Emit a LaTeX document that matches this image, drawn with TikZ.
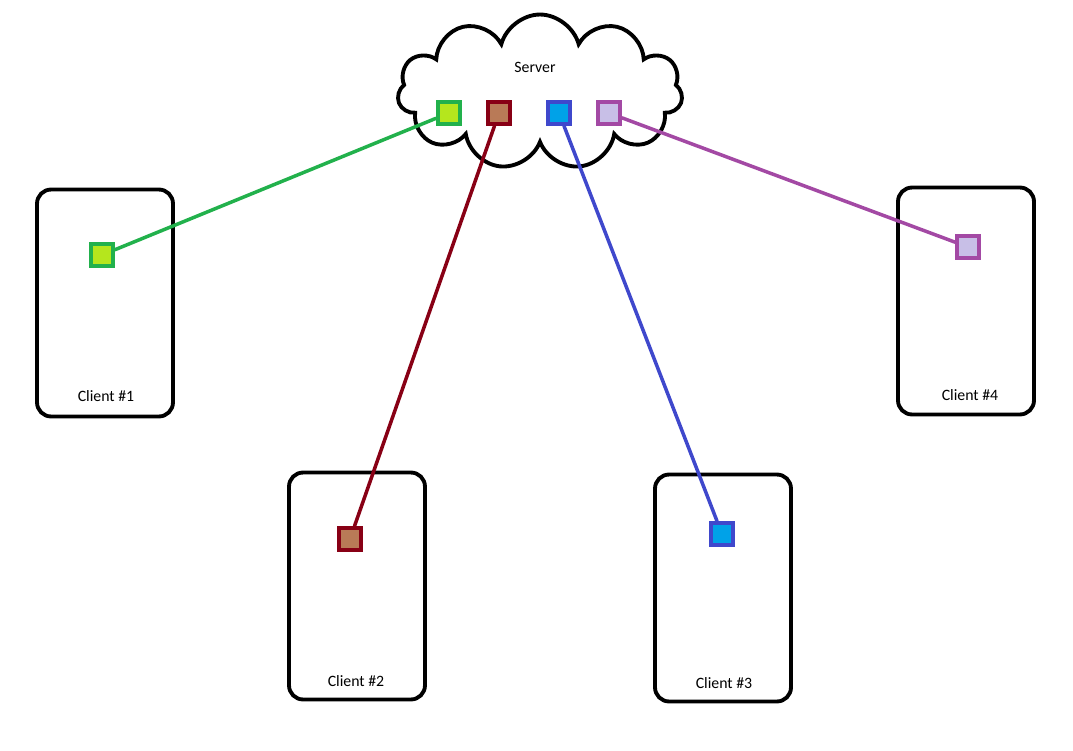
\documentclass[tikz,border=0pt]{standalone}
\usepackage{fontspec}
\setmainfont{Carlito}
\usetikzlibrary{shapes.symbols, positioning}
\definecolor{grnD}{HTML}{22B14C}\definecolor{grnL}{HTML}{B5E61D}
\definecolor{redD}{HTML}{880015}\definecolor{redL}{HTML}{B97A57}
\definecolor{bluD}{HTML}{3F48CC}\definecolor{bluL}{HTML}{00A2E8}
\definecolor{purD}{HTML}{A349A4}\definecolor{purL}{HTML}{C8BFE7}
\tikzset{
    client/.style={draw, line width=2.2pt, rounded corners=8pt, minimum width=2.72cm, minimum height=4.54cm, inner sep=0pt},
    port/.style={draw=#1D, fill=#1L, line width=2pt, minimum size=0.44cm, inner sep=0pt},
    link/.style={draw=#1D, line width=2pt},
    label/.style={font=\fontsize{9}{11}\selectfont}
}
\begin{document}
\begin{tikzpicture}[x=0.02cm, y=-0.02cm]
    \useasboundingbox (0,0) rectangle (1073,751);
    % server
    \node[cloud, draw, line width=2.2pt, cloud puffs=11, minimum width=5.7cm, minimum height=3.1cm, aspect=2] (server) at (540,92) {};
    \node[label] (srvtext) at (535,67) {Server};
    \node[port=grn] (s1) at (449,113) {};
    \node[port=red] (s2) at (499,113) {};
    \node[port=blu] (s3) at (559,113) {};
    \node[port=pur] (s4) at (609,113) {};
    % clients
    \node[client] (c1) at (105,303) {};
    \node[client] (c2) at (357,586) {};
    \node[client] (c3) at (723,588) {};
    \node[client] (c4) at (966,301) {};
    \node[label] (t1) at (106,396) {Client \#1};
    \node[label] (t2) at (356,681) {Client \#2};
    \node[label] (t3) at (724,683) {Client \#3};
    \node[label] (t4) at (970,395) {Client \#4};
    \node[port=grn] (p1) at (102,255) {};
    \node[port=red] (p2) at (350,539) {};
    \node[port=blu] (p3) at (722,534) {};
    \node[port=pur] (p4) at (968,247) {};
    % links
    \draw[link=grn] (s1) -- (p1);
    \draw[link=red] (s2) -- (p2);
    \draw[link=blu] (s3) -- (p3);
    \draw[link=pur] (s4) -- (p4);
\end{tikzpicture}
\end{document}
